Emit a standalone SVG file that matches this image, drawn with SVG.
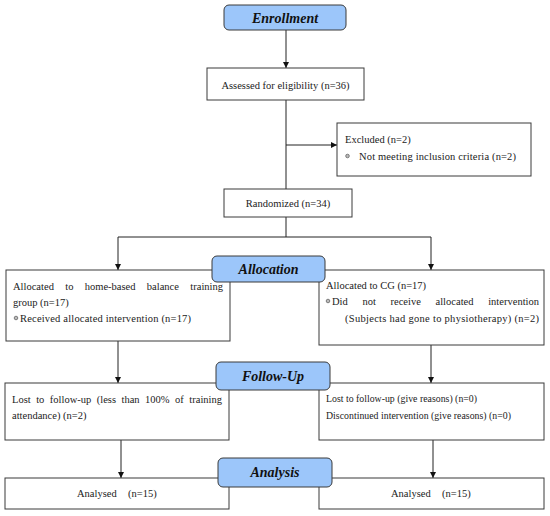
<svg xmlns="http://www.w3.org/2000/svg" width="550" height="516" viewBox="0 0 550 516">
<defs>
<style>
.box{fill:#fff;stroke:#3a3a3a;stroke-width:1}
.hdr{fill:#9cc6fa;stroke:#3a3a3a;stroke-width:1}
.ht{font-family:"Liberation Serif","DejaVu Serif",serif;font-size:14px;font-weight:bold;font-style:italic;fill:#111;text-anchor:middle}
.t{font-family:"Liberation Serif","DejaVu Serif",serif;font-size:10.5px;fill:#222}
.s{font-family:"Liberation Serif","DejaVu Serif",serif;font-size:9.8px;fill:#222}
.c{text-anchor:middle}
.ln{stroke:#222;stroke-width:1;fill:none}
.bul{fill:#bbb;stroke:#555;stroke-width:0.7}
</style>
<marker id="ah" viewBox="0 0 10 10" refX="10" refY="5" markerWidth="6" markerHeight="6" orient="auto" markerUnits="userSpaceOnUse">
<path d="M0,0 L10,5 L0,10 z" fill="#111"/>
</marker>
</defs>

<g id="connectors">
<line class="ln" x1="286" y1="30" x2="286" y2="68" marker-end="url(#ah)"/>
<line class="ln" x1="286" y1="100" x2="286" y2="189"/>
<line class="ln" x1="286" y1="145" x2="337" y2="145" marker-end="url(#ah)"/>
<polyline class="ln" points="286,217 286,237"/>
<polyline class="ln" points="118,237 431,237 431,270" marker-end="url(#ah)"/>
<line class="ln" x1="118" y1="237" x2="118" y2="270" marker-end="url(#ah)"/>
<line class="ln" x1="118" y1="341" x2="118" y2="383" marker-end="url(#ah)"/>
<line class="ln" x1="431" y1="345" x2="431" y2="383" marker-end="url(#ah)"/>
<line class="ln" x1="121" y1="440" x2="121" y2="478" marker-end="url(#ah)"/>
<line class="ln" x1="433" y1="440" x2="433" y2="478" marker-end="url(#ah)"/>
</g>

<g id="enrollment">
<rect class="hdr" x="224" y="5" width="122" height="25" rx="5"/>
<text class="ht" x="285" y="23">Enrollment</text>
</g>

<g id="assessed">
<rect class="box" x="207" y="68" width="157" height="32"/>
<text class="t c" x="285.5" y="89">Assessed for eligibility (n=36)</text>
</g>

<g id="excluded">
<rect class="box" x="337" y="123" width="194" height="53"/>
<text class="t" x="345" y="143">Excluded (n=2)</text>
<circle class="bul" cx="347.5" cy="156" r="1.8"/>
<text class="t" x="359" y="160" textLength="157" lengthAdjust="spacing">Not meeting inclusion criteria (n=2)</text>
</g>

<g id="randomized">
<rect class="box" x="224" y="189" width="128" height="28"/>
<text class="t c" x="288" y="207">Randomized (n=34)</text>
</g>

<g id="alloc-left">
<rect class="box" x="6" y="270" width="224" height="71"/>
<text class="t" x="13" y="290" word-spacing="8.7" textLength="210" lengthAdjust="spacing">Allocated to home-based balance training</text>
<text class="t" x="13" y="306">group (n=17)</text>
<circle class="bul" cx="16" cy="318" r="1.8"/>
<text class="t" x="20" y="322" textLength="171" lengthAdjust="spacing">Received allocated intervention (n=17)</text>
</g>

<g id="alloc-right">
<rect class="box" x="319" y="270" width="225" height="75"/>
<text class="t" x="326" y="289">Allocated to CG (n=17)</text>
<circle class="bul" cx="328" cy="301" r="1.8"/>
<text class="t" x="332" y="305" word-spacing="12" textLength="207" lengthAdjust="spacing">Did not receive allocated intervention</text>
<text class="t" x="345" y="322" textLength="194" lengthAdjust="spacing">(Subjects had gone to physiotherapy) (n=2)</text>
</g>

<g id="allocation">
<rect class="hdr" x="212" y="256" width="113" height="26" rx="5"/>
<text class="ht" x="268.5" y="274">Allocation</text>
</g>

<g id="follow-left">
<rect class="box" x="5" y="383" width="224" height="57"/>
<text class="t" x="12" y="403" word-spacing="2.9" textLength="210" lengthAdjust="spacing">Lost to follow-up (less than 100% of training</text>
<text class="t" x="12" y="419">attendance) (n=2)</text>
</g>

<g id="follow-right">
<rect class="box" x="319" y="383" width="225" height="57"/>
<text class="s" x="326" y="402" textLength="151" lengthAdjust="spacing">Lost to follow-up (give reasons) (n=0)</text>
<text class="s" x="326" y="419" textLength="185" lengthAdjust="spacing">Discontinued intervention (give reasons) (n=0)</text>
</g>

<g id="followup">
<rect class="hdr" x="216" y="362" width="114" height="28" rx="5"/>
<text class="ht" x="273" y="381">Follow-Up</text>
</g>

<g id="analysed-left">
<rect class="box" x="5" y="478" width="224" height="31"/>
<text class="t" x="77" y="497">Analysed</text>
<text class="t" x="128" y="497">(n=15)</text>
</g>

<g id="analysed-right">
<rect class="box" x="319" y="478" width="225" height="31"/>
<text class="t" x="391" y="497">Analysed</text>
<text class="t" x="442" y="497">(n=15)</text>
</g>

<g id="analysis">
<rect class="hdr" x="218" y="458" width="114" height="29" rx="5"/>
<text class="ht" x="275" y="477">Analysis</text>
</g>
</svg>
